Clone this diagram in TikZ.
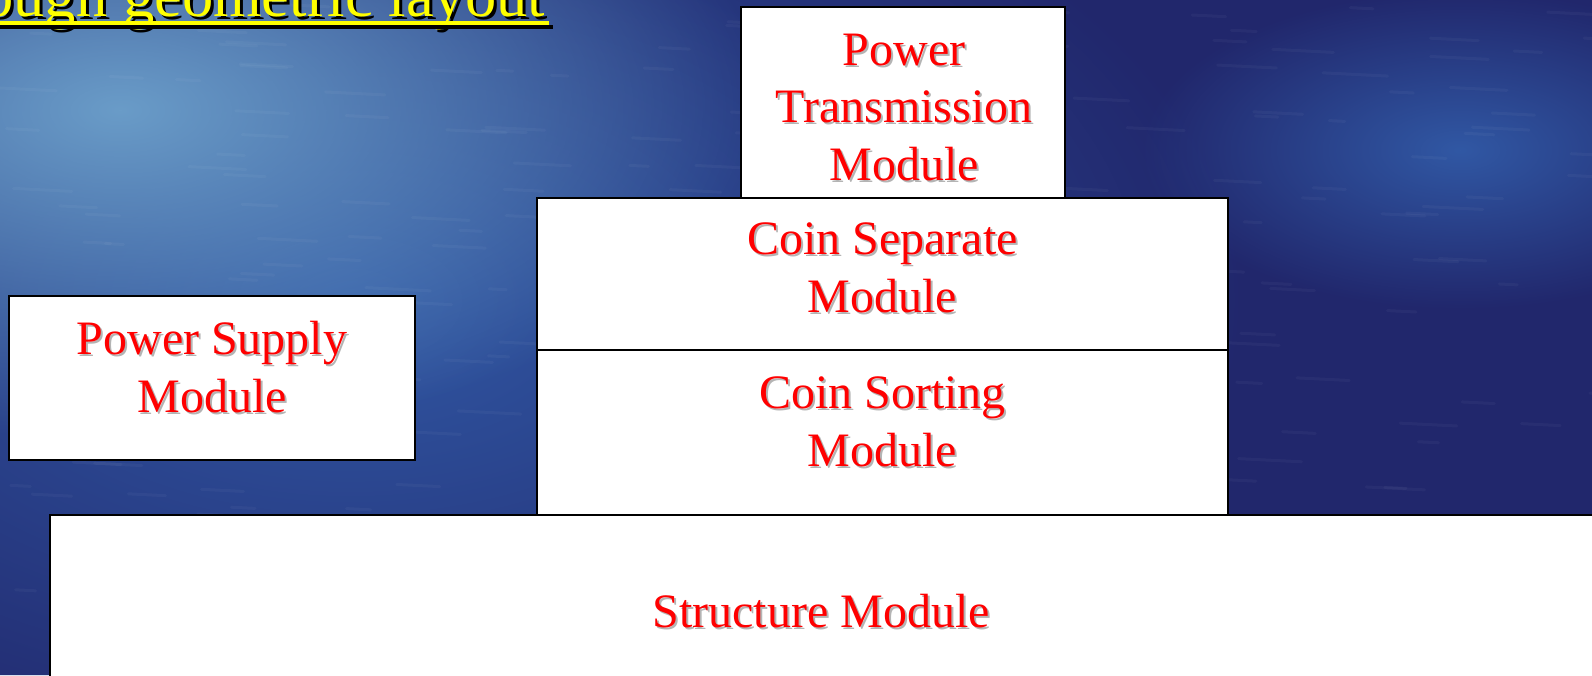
\documentclass[tikz,border=0pt]{standalone}
\usepackage{fontspec}
\setmainfont{Liberation Serif}
\usetikzlibrary{fadings}

\definecolor{deepsea}{HTML}{21276C}
\definecolor{midsea}{HTML}{3158A4}
\definecolor{shallow}{HTML}{6A9CC8}
\definecolor{labelred}{HTML}{FF0000}
\definecolor{labelshade}{HTML}{B4B4B4}
\definecolor{titleyellow}{HTML}{FFFF00}

\tikzfading[name=softspot, inner color=transparent!0, outer color=transparent!100]

\tikzset{
  module/.style={draw=black, line width=1.6pt, fill=white, inner sep=0pt},
  modtext/.style={text=labelred, font=\fontsize{48}{57.5}\selectfont,
    align=center, anchor=base, inner sep=0pt},
  modshade/.style={modtext, text=labelshade},
  titletext/.style={text=titleyellow, font=\fontsize{62.5}{70}\selectfont,
    anchor=base east, inner sep=0pt},
  ripple/.style={white, line width=3pt, line cap=round},
}

% label with a soft drop shadow: name, x, y (baseline of last line), text
\newcommand\modlabel[4]{%
  \node[modshade] (#1-shade) at (#2+2,#3+2) {#4};
  \node[modtext] (#1) at (#2,#3) {#4};
}

\begin{document}
\begin{tikzpicture}[x=1pt,y=-1pt]
\useasboundingbox (0,0) rectangle (1592,675);
\begin{scope}
  \clip (0,0) rectangle (1592,675);
  % sea background
  \fill[deepsea] (0,0) rectangle (1592,675);
  \fill[midsea, path fading=softspot] (350,300) ellipse (900 and 520);
  \fill[shallow, path fading=softspot] (120,110) ellipse (650 and 330);
  \fill[midsea, path fading=softspot] (1460,150) ellipse (320 and 160);
  \pgfmathsetseed{7}
  \foreach \i in {1,...,260}{
    \pgfmathsetmacro\px{rnd*1592}
    \pgfmathsetmacro\py{rnd*675}
    \pgfmathsetmacro\pl{15+rnd*50}
    \draw[ripple, opacity=0.035] (\px,\py) -- ++(\pl,0.05*\pl);
  }

  % heading
  \node[titletext, text=black] (title-shade) at (548,19) {Rough geometric layout};
  \node[titletext] (title) at (545,16.5) {Rough geometric layout};
  \fill[black] (-10,24.8) rectangle (552.5,28.5);
  \fill[titleyellow] (-10,21.3) rectangle (549,25.3);

  % module blocks
  \node[module, minimum width=324pt, minimum height=191pt] (pt) at (903,102.5) {};
  \node[module, minimum width=691pt, minimum height=152pt] (sep) at (882.5,274) {};
  \node[module, minimum width=691pt, minimum height=165pt] (sort) at (882.5,432.5) {};
  \node[module, minimum width=406pt, minimum height=164pt] (ps) at (212,378) {};
  \node[module, minimum width=1560pt, minimum height=200pt] (st) at (830,615) {};

  % module names
  \modlabel{pt-text}{904}{180}{Power\\Transmission\\Module}
  \modlabel{sep-text}{882.5}{312}{Coin Separate\\Module}
  \modlabel{sort-text}{882.5}{466}{Coin Sorting\\Module}
  \modlabel{ps-text}{212}{412}{Power Supply\\Module}
  \modlabel{st-text}{821}{627}{Structure Module}
\end{scope}
\end{tikzpicture}
\end{document}
